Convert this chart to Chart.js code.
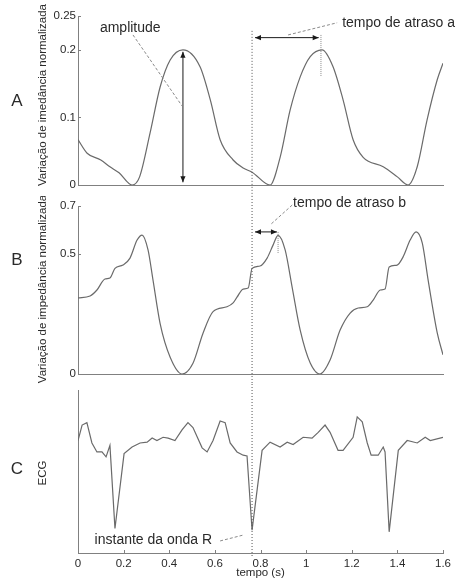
<!DOCTYPE html>
<html>
<head>
<meta charset="utf-8">
<script src="https://cdn.jsdelivr.net/npm/chart.js@4.4.1/dist/chart.umd.min.js"></script>
<style>
  body { margin: 0; background: #fff; }
  #wrap { position: relative; width: 463px; height: 580px; }
  canvas { position: absolute; left: 0; }
</style>
</head>
<body>
<div id="wrap">
  <canvas id="cA" width="463" height="196" style="top:0"></canvas>
  <canvas id="cB" width="463" height="188" style="top:196px"></canvas>
  <canvas id="cC" width="463" height="196" style="top:384px"></canvas>
</div>
<script>
// panel A: impedance variation, normalised
const tA = [0, 0.04, 0.10, 0.14, 0.18, 0.237, 0.27, 0.316, 0.36, 0.404, 0.46, 0.535, 0.58, 0.623, 0.68, 0.724, 0.763, 0.842, 0.886, 0.93, 0.974, 1.018, 1.07, 1.118, 1.162, 1.206, 1.25, 1.338, 1.40, 1.447, 1.487, 1.53, 1.575, 1.6];
const vA = [0.067, 0.047, 0.037, 0.027, 0.018, 0, 0.012, 0.077, 0.145, 0.185, 0.2, 0.175, 0.126, 0.067, 0.037, 0.025, 0.019, 0, 0.041, 0.111, 0.16, 0.19, 0.2, 0.175, 0.126, 0.067, 0.041, 0.027, 0.012, 0, 0.027, 0.096, 0.156, 0.18];

// panel B
const tB = [0, 0.053, 0.083, 0.118, 0.14, 0.162, 0.197, 0.228, 0.259, 0.281, 0.307, 0.329, 0.36, 0.404, 0.456, 0.504, 0.548, 0.592, 0.653, 0.68, 0.697, 0.724, 0.746, 0.763, 0.798, 0.829, 0.855, 0.877, 0.908, 0.939, 0.974, 1.018, 1.061, 1.105, 1.149, 1.193, 1.228, 1.268, 1.294, 1.325, 1.346, 1.364, 1.399, 1.425, 1.456, 1.482, 1.509, 1.535, 1.575, 1.6];
const vB = [0.317, 0.325, 0.35, 0.396, 0.40, 0.44, 0.454, 0.483, 0.558, 0.579, 0.517, 0.39, 0.21, 0.07, 0, 0.045, 0.17, 0.26, 0.28, 0.296, 0.32, 0.354, 0.358, 0.44, 0.45, 0.483, 0.537, 0.578, 0.517, 0.36, 0.183, 0.046, 0, 0.058, 0.183, 0.254, 0.275, 0.28, 0.308, 0.35, 0.354, 0.446, 0.454, 0.488, 0.558, 0.592, 0.546, 0.39, 0.17, 0.08];

// panel C: ECG (arbitrary units 0..1)
const tC = [0, 0.018, 0.039, 0.061, 0.083, 0.105, 0.123, 0.14, 0.162, 0.202, 0.237, 0.272, 0.303, 0.325, 0.346, 0.373, 0.395, 0.425, 0.456, 0.482, 0.504, 0.544, 0.566, 0.592, 0.623, 0.645, 0.667, 0.697, 0.724, 0.741, 0.763, 0.807, 0.842, 0.886, 0.917, 0.943, 0.987, 1.026, 1.053, 1.083, 1.105, 1.14, 1.162, 1.206, 1.224, 1.246, 1.268, 1.285, 1.316, 1.338, 1.346, 1.364, 1.404, 1.443, 1.487, 1.522, 1.544, 1.6];
const vC = [0.69, 0.785, 0.80, 0.675, 0.62, 0.62, 0.59, 0.66, 0.15, 0.61, 0.65, 0.675, 0.68, 0.705, 0.69, 0.71, 0.705, 0.69, 0.755, 0.80, 0.77, 0.645, 0.62, 0.69, 0.81, 0.80, 0.675, 0.62, 0.60, 0.595, 0.14, 0.63, 0.68, 0.65, 0.68, 0.665, 0.71, 0.705, 0.74, 0.785, 0.74, 0.63, 0.63, 0.71, 0.835, 0.805, 0.675, 0.60, 0.60, 0.65, 0.62, 0.13, 0.63, 0.69, 0.675, 0.71, 0.69, 0.71];

const ticksA = [0, 0.1, 0.2, 0.25];
const ticksB = [0, 0.5, 0.7];
const ticksX = [0, 0.2, 0.4, 0.6, 0.8, 1, 1.2, 1.4, 1.6];

// annotated instants (s) and levels
const rWaveT = 0.763;
const peakAT = 1.065, peakBT = 0.877;
const ampT = 0.46, ampTop = 0.197, ampBottom = 0.004;

const LINE = "#6a6a6a", AXIS = "#808080", TEXT = "#2a2a2a", DARK = "#1a1a1a", LEAD = "#8a8a8a";
const FONT = '"Liberation Sans", Arial, sans-serif';

function pts(t, v) { return t.map((x, i) => ({ x: x, y: v[i] })); }

function head(ctx, x, y, ang) {
  const L = 6, W = 2.6;
  ctx.beginPath();
  ctx.moveTo(x, y);
  ctx.lineTo(x - L * Math.cos(ang) + W * Math.sin(ang), y - L * Math.sin(ang) - W * Math.cos(ang));
  ctx.lineTo(x - L * Math.cos(ang) - W * Math.sin(ang), y - L * Math.sin(ang) + W * Math.cos(ang));
  ctx.closePath();
  ctx.fill();
}

function arrow(ctx, x1, y1, x2, y2) {
  ctx.save();
  ctx.strokeStyle = DARK; ctx.fillStyle = DARK; ctx.lineWidth = 1; ctx.setLineDash([]);
  ctx.beginPath(); ctx.moveTo(x1, y1); ctx.lineTo(x2, y2); ctx.stroke();
  head(ctx, x2, y2, Math.atan2(y2 - y1, x2 - x1));
  head(ctx, x1, y1, Math.atan2(y1 - y2, x1 - x2));
  ctx.restore();
}

function line(ctx, x1, y1, x2, y2, color, dash) {
  ctx.save();
  ctx.strokeStyle = color; ctx.lineWidth = 1; ctx.setLineDash(dash);
  ctx.beginPath(); ctx.moveTo(x1, y1); ctx.lineTo(x2, y2); ctx.stroke();
  ctx.restore();
}

function label(ctx, text, x, y, align) {
  ctx.save();
  ctx.fillStyle = TEXT; ctx.font = "14px " + FONT;
  ctx.textAlign = align; ctx.textBaseline = "middle";
  ctx.fillText(text, x, y);
  ctx.restore();
}

// letters, rotated y titles, inward ticks and the annotations
function deco(cfg) {
  return {
    id: "deco" + cfg.letter,
    afterDraw(chart) {
      const { ctx, chartArea: a, scales: { x, y } } = chart;
      ctx.save();
      ctx.strokeStyle = AXIS; ctx.lineWidth = 1;
      cfg.yTicks.forEach(v => {
        const py = Math.round(y.getPixelForValue(v)) + 0.5;
        ctx.beginPath(); ctx.moveTo(a.left, py); ctx.lineTo(a.left + 3, py); ctx.stroke();
      });
      if (cfg.xTicks) {
        cfg.xTicks.forEach(v => {
          const px = Math.round(x.getPixelForValue(v)) + 0.5;
          ctx.beginPath(); ctx.moveTo(px, a.bottom); ctx.lineTo(px, a.bottom - 3); ctx.stroke();
        });
      }
      ctx.fillStyle = TEXT;
      ctx.font = "17px " + FONT; ctx.textAlign = "center"; ctx.textBaseline = "middle";
      ctx.fillText(cfg.letter, 17, cfg.letterY);
      ctx.translate(43, cfg.titleY); ctx.rotate(-Math.PI / 2);
      ctx.font = "11.5px " + FONT;
      ctx.fillText(cfg.title, 0, 0);
      ctx.restore();
      cfg.extra(ctx, x, y, a, chart);
    }
  };
}

function options(top, xHeight, yMin, yMax, yTicks, showX) {
  return {
    responsive: false,
    animation: false,
    layout: { padding: { left: 32, right: 20, top: top, bottom: 0 } },
    plugins: { legend: { display: false }, tooltip: { enabled: false } },
    elements: { point: { radius: 0 } },
    scales: {
      x: {
        type: "linear", min: 0, max: 1.6,
        afterBuildTicks: s => { s.ticks = ticksX.map(v => ({ value: v })); },
        afterFit: s => { s.height = xHeight; },
        grid: { display: false, drawTicks: false },
        border: { display: true, color: AXIS, width: 1 },
        ticks: {
          display: showX, padding: 4, color: TEXT, font: { family: FONT, size: 11.5 },
          maxRotation: 0, autoSkip: false,
          callback: v => String(+(+v).toFixed(1))
        },
        title: { display: showX, text: "tempo (s)", color: TEXT, font: { family: FONT, size: 11.5 }, padding: { top: 0, bottom: 0 } }
      },
      y: {
        type: "linear", min: yMin, max: yMax,
        afterBuildTicks: s => { s.ticks = yTicks.map(v => ({ value: v })); },
        afterFit: s => { s.width = 46; },
        grid: { display: false, drawTicks: false },
        border: { display: true, color: AXIS, width: 1 },
        ticks: {
          display: yTicks.length > 0, padding: 2, color: TEXT, font: { family: FONT, size: 11.5 },
          callback: v => String(v)
        }
      }
    }
  };
}

function dataset(t, v, smooth) {
  return {
    data: pts(t, v),
    borderColor: LINE, borderWidth: 1.2, fill: false,
    tension: smooth ? 0.4 : 0,
    cubicInterpolationMode: smooth ? "monotone" : "default"
  };
}

new Chart(document.getElementById("cA"), {
  type: "line",
  data: { datasets: [dataset(tA, vA, true)] },
  options: options(16, 11, 0, 0.25, ticksA, false),
  plugins: [deco({
    letter: "A", letterY: 101, title: "Variação de imedância normalizada", titleY: 95,
    yTicks: ticksA,
    extra(ctx, x, y, a) {
      const rx = x.getPixelForValue(rWaveT);
      line(ctx, rx, y.getPixelForValue(0.228), rx, a.bottom + 20, "#555", [1, 2]);
      // amplitude
      const ax = x.getPixelForValue(ampT);
      arrow(ctx, ax, y.getPixelForValue(ampTop), ax, y.getPixelForValue(ampBottom));
      line(ctx, x.getPixelForValue(0.241), y.getPixelForValue(0.222), x.getPixelForValue(0.456), y.getPixelForValue(0.117), LEAD, [3, 2]);
      label(ctx, "amplitude", x.getPixelForValue(0.096), y.getPixelForValue(0.2326), "left");
      // tempo de atraso a
      const px = x.getPixelForValue(peakAT);
      line(ctx, px, y.getPixelForValue(0.222), px, y.getPixelForValue(0.16), LEAD, [1, 1]);
      arrow(ctx, x.getPixelForValue(0.776), y.getPixelForValue(0.218), x.getPixelForValue(1.055), y.getPixelForValue(0.218));
      line(ctx, x.getPixelForValue(0.921), y.getPixelForValue(0.222), x.getPixelForValue(1.136), y.getPixelForValue(0.24), LEAD, [3, 2]);
      label(ctx, "tempo de atraso a", x.getPixelForValue(1.158), y.getPixelForValue(0.24), "left");
    }
  })]
});

new Chart(document.getElementById("cB"), {
  type: "line",
  data: { datasets: [dataset(tB, vB, true)] },
  options: options(10, 10, 0, 0.7, ticksB, false),
  plugins: [deco({
    letter: "B", letterY: 64, title: "Variação de impedância normalizada", titleY: 93,
    yTicks: ticksB,
    extra(ctx, x, y, a, chart) {
      const rx = x.getPixelForValue(rWaveT);
      line(ctx, rx, 0, rx, chart.height, "#555", [1, 2]);
      const px = x.getPixelForValue(peakBT);
      line(ctx, px, y.getPixelForValue(0.592), px, y.getPixelForValue(0.504), LEAD, [1, 1]);
      arrow(ctx, x.getPixelForValue(0.776), y.getPixelForValue(0.592), x.getPixelForValue(0.872), y.getPixelForValue(0.592));
      line(ctx, x.getPixelForValue(0.939), y.getPixelForValue(0.704), x.getPixelForValue(0.842), y.getPixelForValue(0.621), LEAD, [3, 2]);
      label(ctx, "tempo de atraso b", x.getPixelForValue(0.943), y.getPixelForValue(0.7125), "left");
    }
  })]
});

new Chart(document.getElementById("cC"), {
  type: "line",
  data: { datasets: [dataset(tC, vC, false)] },
  options: options(6, 27, 0, 1, [], true),
  plugins: [deco({
    letter: "C", letterY: 85, title: "ECG", titleY: 89,
    yTicks: [], xTicks: ticksX,
    extra(ctx, x, y, a) {
      const rx = x.getPixelForValue(rWaveT);
      line(ctx, rx, 0, rx, a.bottom + 3, "#555", [1, 2]);
      line(ctx, x.getPixelForValue(0.623), y.getPixelForValue(0.074), x.getPixelForValue(0.724), y.getPixelForValue(0.11), LEAD, [3, 2]);
      label(ctx, "instante da onda R", x.getPixelForValue(0.588), y.getPixelForValue(0.08), "right");
    }
  })]
});
</script>
</body>
</html>
